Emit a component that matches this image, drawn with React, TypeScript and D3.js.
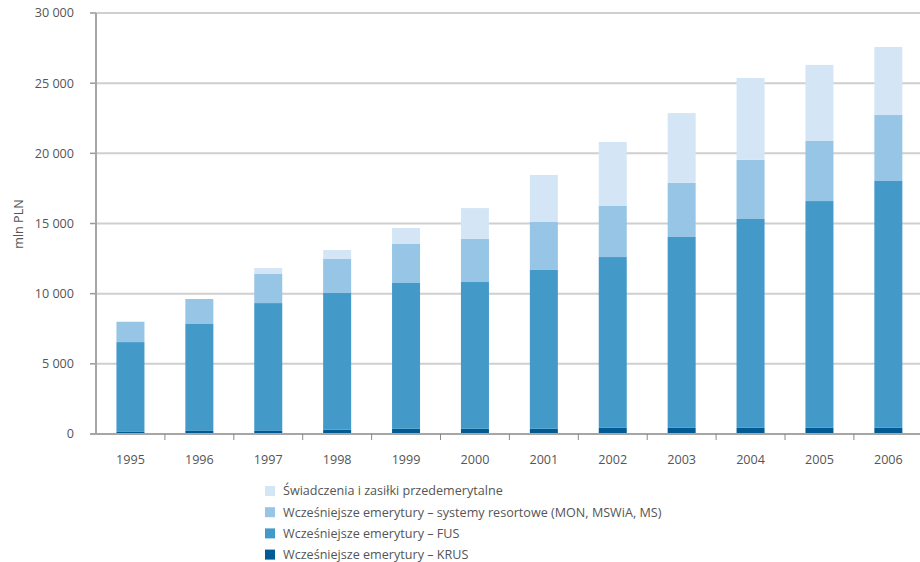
import React from "react";
import * as d3 from "d3";

const years = ["1995","1996","1997","1998","1999","2000","2001","2002","2003","2004","2005","2006"];
const krus = [150, 220, 220, 300, 370, 370, 370, 440, 440, 440, 440, 440];
const fus = [6400, 7620, 9110, 9750, 10390, 10460, 11320, 12170, 13600, 14880, 16160, 17590];
const resortowe = [1450, 1780, 2070, 2420, 2780, 3070, 3420, 3640, 3850, 4210, 4280, 4700];
const przedemerytalne = [0, 0, 430, 640, 1140, 2200, 3350, 4560, 4980, 5840, 5420, 4850];
const yTicks = [0, 5000, 10000, 15000, 20000, 25000, 30000];
const seriesKeys = ["krus", "fus", "resortowe", "przed"];
const seriesLabels = [
  "Wcześniejsze emerytury – KRUS",
  "Wcześniejsze emerytury – FUS",
  "Wcześniejsze emerytury – systemy resortowe (MON, MSWiA, MS)",
  "Świadczenia i zasiłki przedemerytalne",
];
const colors = ["#005b94", "#4399c8", "#97c5e5", "#d4e6f5"];

export default function App() {
  const W = 920, H = 562;
  const left = 96, top = 13, bottom = 434;
  const step = 68.9;
  const right = left + step * years.length;
  const font = "'Open Sans', sans-serif";
  const textColor = "#555";
  const fs = 12.6;

  const rows = years.map((y, i) => ({
    year: y,
    krus: krus[i],
    fus: fus[i],
    resortowe: resortowe[i],
    przed: przedemerytalne[i],
  }));
  const stacked = d3.stack<any>().keys(seriesKeys)(rows);

  const x = d3.scaleBand<string>().domain(years).range([left, right]).padding(0);
  const y = d3.scaleLinear().domain([0, 30000]).range([bottom, top]);
  const barW = 28;
  const fmt = (v: number) => d3.format(",")(v).replace(/,/g, " ");

  const legendOrder = [3, 2, 1, 0];

  return (
    <svg width={W} height={H} style={{ position: "absolute", left: 0, top: 0, background: "#fff" }}>
      {yTicks.filter((t) => t > 0).map((t) => (
        <line key={"g" + t} x1={left} x2={W} y1={y(t)} y2={y(t)} stroke="#cfcfcf" strokeWidth={2} />
      ))}
      {yTicks.map((t) => (
        <g key={"t" + t}>
          <line x1={90} x2={left} y1={y(t)} y2={y(t)} stroke="#999" strokeWidth={1.5} />
          <text x={74} y={y(t)} dy="0.35em" textAnchor="end" fontFamily={font} fontSize={fs} fill={textColor}>
            {fmt(t)}
          </text>
        </g>
      ))}
      {stacked.map((s, si) => (
        <g key={s.key} fill={colors[si]}>
          {s.map((d, i) => {
            const h = y(d[0]) - y(d[1]);
            if (h <= 0) return null;
            return (
              <rect
                key={i}
                x={(x(years[i]) as number) + x.bandwidth() / 2 - barW / 2}
                y={y(d[1])}
                width={barW}
                height={h}
              />
            );
          })}
        </g>
      ))}
      <line x1={left} x2={left} y1={top} y2={bottom + 1} stroke="#a6a6a6" strokeWidth={2} />
      <line x1={90} x2={W} y1={bottom} y2={bottom} stroke="#a6a6a6" strokeWidth={2} />
      {years.map((yr) => (
        <line
          key={"xt" + yr}
          x1={(x(yr) as number) + x.bandwidth()}
          x2={(x(yr) as number) + x.bandwidth()}
          y1={bottom}
          y2={bottom + 6}
          stroke="#888"
          strokeWidth={1}
        />
      ))}
      {years.map((yr) => (
        <text
          key={"xl" + yr}
          x={(x(yr) as number) + x.bandwidth() / 2}
          y={460}
          dy="0.35em"
          textAnchor="middle"
          fontFamily={font}
          fontSize={fs}
          fill={textColor}
        >
          {yr}
        </text>
      ))}
      <text
        transform={`translate(19, 224) rotate(-90)`}
        textAnchor="middle"
        dy="0.35em"
        fontFamily={font}
        fontSize={fs}
        fill={textColor}
      >
        mln PLN
      </text>
      {legendOrder.map((si, r) => {
        const cy = 491 + r * 21.2;
        return (
          <g key={"lg" + si}>
            <rect x={265} y={cy - 5} width={10} height={10} fill={colors[si]} />
            <text x={283} y={cy} dy="0.35em" fontFamily={font} fontSize={fs} fill={textColor}>
              {seriesLabels[si]}
            </text>
          </g>
        );
      })}
    </svg>
  );
}
